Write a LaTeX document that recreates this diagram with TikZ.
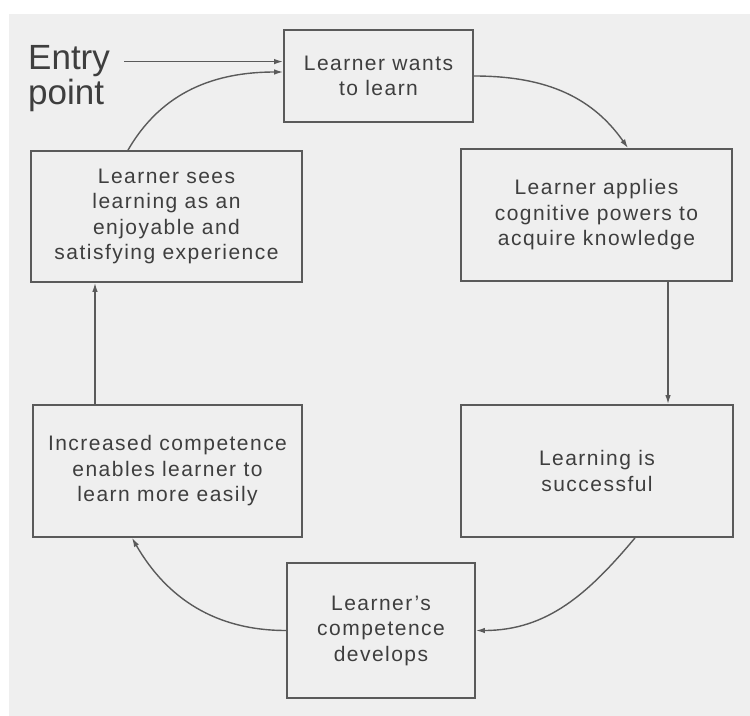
\documentclass[tikz,border=0pt]{standalone}
\usepackage{fontspec}
\setmainfont{Liberation Sans}[LetterSpace=7]
\newfontfamily\entryfont{Liberation Sans}
\usetikzlibrary{arrows.meta}
\definecolor{paper}{RGB}{239,239,239}
\definecolor{ink}{RGB}{90,90,90}
\definecolor{txt}{RGB}{62,62,62}
\begin{document}
\begin{tikzpicture}[x=1bp,y=1bp,
  stage/.style={draw=ink, line width=1.8bp, align=center, text=txt, inner sep=0pt,
    font=\fontsize{21bp}{25.5bp}\selectfont},
  entrytext/.style={anchor=base west, inner sep=0pt, text=txt,
    font=\entryfont\fontsize{35bp}{35bp}\selectfont},
  flow/.style={draw=ink, line width=1.4bp, -{Latex[length=9bp,width=5.5bp]}}]
\useasboundingbox (0,0) rectangle (750,-716);
\fill[white] (0,0) rectangle (750,-716);
\fill[paper] (9,-14) rectangle (750,-716);

% the six stages of the learning cycle
\node[stage, minimum width=189bp, minimum height=92bp]  (b1) at (378.5,-76)   {Learner wants\\to learn};
\node[stage, minimum width=271bp, minimum height=132bp] (b2) at (596.5,-215)  {Learner applies\\cognitive powers to\\acquire knowledge};
\node[stage, minimum width=272bp, minimum height=132bp] (b3) at (597,-471)    {Learning is\\successful};
\node[stage, minimum width=188bp, minimum height=135bp] (b4) at (381,-630.5)  {Learner's\\competence\\develops};
\node[stage, minimum width=269bp, minimum height=132bp] (b5) at (167.5,-471)  {Increased competence\\enables learner to\\learn more easily};
\node[stage, minimum width=271bp, minimum height=131bp] (b6) at (166.5,-216.5){Learner sees\\learning as an\\enjoyable and\\satisfying experience};

% entry label
\node[entrytext] (entrya) at (28,-70)  {Entry};
\node[entrytext] (entryb) at (28,-105) {point};

% connectors
\draw[flow] ([xshift=14bp]entrya.east) -- (entrya.east -| b1.west);
\draw[flow] (b1.east) to[out=0,in=125] ([xshift=31.5bp]b2.north);
\draw[flow] ([xshift=71.5bp]b2.south) -- ([xshift=71.5bp]b2.south |- b3.north);
\draw[flow] ([xshift=38bp]b3.south) to[out=-130,in=0] (b4.east);
\draw[flow] (b4.west) to[out=180,in=-60] ([xshift=-35.5bp]b5.south);
\draw[flow] ([xshift=-72.5bp]b5.north) -- ([xshift=-72.5bp]b5.north |- b6.south);
\draw[flow] ([xshift=-38.5bp]b6.north) to[out=60,in=180] ([yshift=4bp]b1.west);
\end{tikzpicture}
\end{document}
